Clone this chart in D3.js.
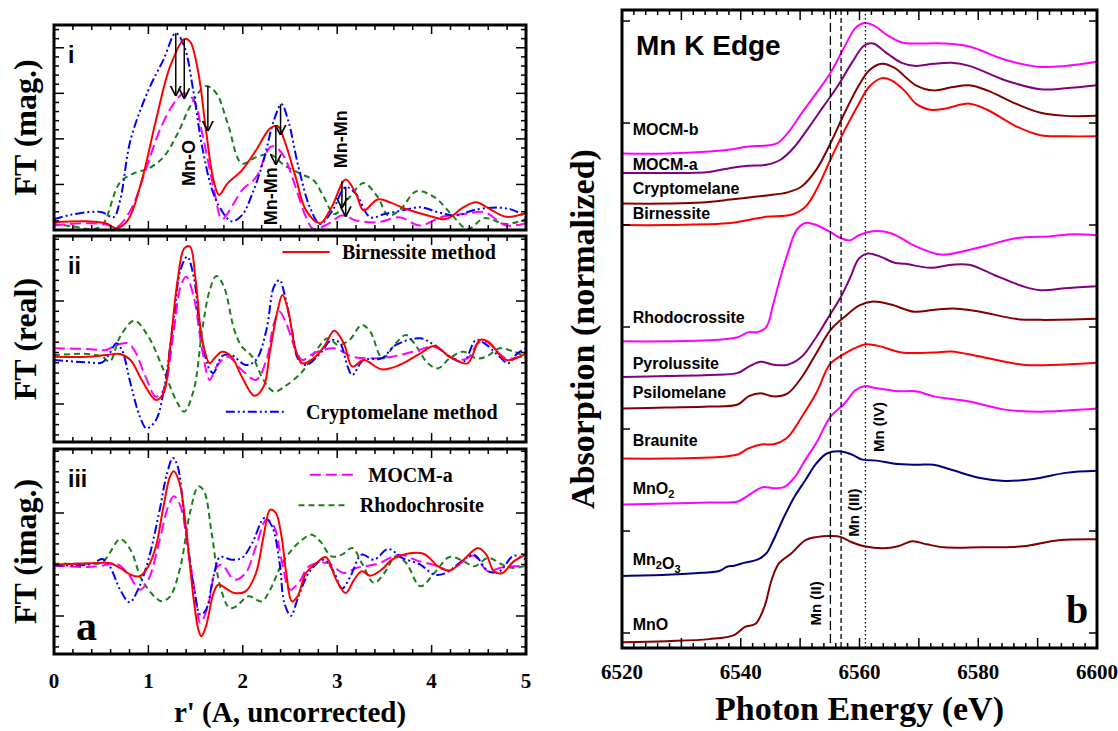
<!DOCTYPE html>
<html>
<head>
<meta charset="utf-8">
<script src="https://cdn.jsdelivr.net/npm/d3@7"></script>
<style>
  body { margin: 0; background: #fff; }
  .serif { font-family: "Liberation Serif", "Times New Roman", serif; font-weight: bold; }
  .sans { font-family: "Liberation Sans", Arial, sans-serif; font-weight: bold; }
</style>
</head>
<body>
<svg id="chart" width="1118" height="731"></svg>
<script>
// ---- panel a : FT of EXAFS, r' in A ----
var rTicks = [0, 1, 2, 3, 4, 5];

// (i) magnitude
var magBirn = [[0,0.17],[0.36,0.19],[0.55,0.15],[0.66,0.04],[0.78,0.21],[0.93,1.09],[1.08,2.41],[1.23,3.59],[1.38,4.19],[1.44,4.14],[1.53,3.44],[1.61,2.19],[1.69,1.09],[1.75,0.77],[1.84,1.03],[1.99,1.31],[2.14,1.75],[2.29,2.23],[2.37,2.28],[2.44,1.97],[2.56,1.16],[2.67,0.43],[2.82,0.15],[2.94,0.50],[3.09,1.11],[3.20,0.79],[3.28,0.43],[3.43,0.67],[3.58,0.59],[3.73,0.46],[3.96,0.32],[4.15,0.24],[4.34,0.50],[4.47,0.61],[4.64,0.43],[4.79,0.29],[5.0,0.37]];
var magCrypt = [[0,0.24],[0.17,0.33],[0.40,0.40],[0.51,0.39],[0.63,0.28],[0.70,0.65],[0.81,1.97],[1.00,3.07],[1.16,3.74],[1.29,4.32],[1.38,4.03],[1.48,3.00],[1.57,1.82],[1.69,0.79],[1.80,0.35],[1.88,0.19],[1.99,0.32],[2.10,0.79],[2.22,1.53],[2.33,2.41],[2.41,2.76],[2.48,2.41],[2.59,1.38],[2.71,0.50],[2.82,0.13],[2.95,0.43],[3.09,0.94],[3.20,0.79],[3.35,0.28],[3.50,0.35],[3.69,0.43],[3.88,0.50],[4.07,0.39],[4.26,0.32],[4.45,0.44],[4.72,0.49],[4.87,0.43],[5.0,0.28]];
var magMocm = [[0,0.10],[0.36,0.15],[0.55,0.12],[0.66,0.06],[0.81,0.43],[0.97,1.31],[1.12,2.19],[1.27,2.78],[1.38,3.00],[1.48,2.85],[1.57,2.12],[1.69,0.94],[1.78,0.24],[1.88,0.50],[1.99,0.87],[2.14,1.16],[2.29,1.82],[2.35,1.82],[2.44,1.60],[2.56,0.94],[2.67,0.28],[2.75,0.02],[2.90,0.13],[3.05,0.32],[3.20,0.21],[3.43,0.17],[3.66,0.28],[3.88,0.10],[4.11,0.29],[4.34,0.35],[4.56,0.39],[4.79,0.10],[5.0,0.15]];
var magRhodo = [[0,0.13],[0.17,0.09],[0.40,0.02],[0.51,0.10],[0.70,1.05],[0.85,1.25],[1.00,1.35],[1.16,1.60],[1.31,2.12],[1.46,2.78],[1.61,3.16],[1.72,3.00],[1.84,2.34],[1.99,1.46],[2.14,1.60],[2.29,1.66],[2.44,1.42],[2.63,1.22],[2.75,1.09],[2.86,0.72],[2.97,0.35],[3.13,0.72],[3.28,1.03],[3.43,0.72],[3.54,0.32],[3.66,0.43],[3.84,0.85],[4.03,0.72],[4.22,0.32],[4.38,0.02],[4.56,0.26],[4.79,0.13],[5.0,0.24]];

// (ii) real part
var reBirn = [[0,-0.02],[0.36,-0.02],[0.55,0.03],[0.70,0.06],[0.81,-0.12],[0.93,-0.72],[1.08,-1.32],[1.16,-1.12],[1.23,0.28],[1.31,2.28],[1.38,3.23],[1.44,3.28],[1.50,2.28],[1.57,0.48],[1.65,-0.22],[1.70,-0.07],[1.78,0.13],[1.88,-0.02],[1.99,-0.62],[2.12,-1.19],[2.22,-0.92],[2.29,0.18],[2.37,1.38],[2.42,1.83],[2.48,1.38],[2.56,0.18],[2.63,-0.22],[2.75,-0.07],[2.86,0.28],[2.97,0.76],[3.07,0.38],[3.16,-0.32],[3.28,-0.12],[3.47,-0.40],[3.66,-0.27],[3.88,0.08],[4.03,0.30],[4.19,-0.02],[4.38,-0.22],[4.51,0.48],[4.60,0.43],[4.79,-0.12],[5.0,0.08]];
var reCrypt = [[0,-0.12],[0.36,-0.19],[0.51,-0.19],[0.59,0.08],[0.66,0.38],[0.72,0.18],[0.81,-0.82],[0.91,-1.82],[0.98,-2.17],[1.08,-1.92],[1.17,-0.92],[1.27,1.18],[1.34,2.58],[1.41,2.98],[1.48,2.38],[1.55,0.78],[1.65,-0.42],[1.69,-0.50],[1.78,0.00],[1.88,0.03],[2.03,-0.27],[2.14,-0.12],[2.25,0.78],[2.33,2.08],[2.39,2.28],[2.44,1.88],[2.52,0.78],[2.59,-0.12],[2.67,-0.27],[2.82,0.08],[2.94,0.48],[3.03,0.38],[3.11,-0.32],[3.16,-0.57],[3.28,-0.12],[3.47,-0.07],[3.62,0.33],[3.88,0.53],[4.03,0.33],[4.22,-0.07],[4.34,-0.17],[4.47,0.48],[4.56,0.38],[4.72,-0.02],[4.81,-0.22],[4.91,0.08],[5.0,0.23]];
var reMocm = [[0,0.23],[0.36,0.21],[0.55,0.18],[0.66,0.33],[0.78,0.38],[0.85,0.18],[0.97,-0.62],[1.08,-1.22],[1.16,-1.02],[1.27,0.78],[1.34,2.08],[1.40,2.38],[1.48,1.78],[1.57,0.18],[1.65,-0.72],[1.72,-0.32],[1.84,-0.02],[1.99,-0.42],[2.14,-0.72],[2.25,-0.12],[2.33,0.98],[2.39,1.33],[2.46,0.98],[2.56,0.18],[2.63,-0.12],[2.75,0.08],[2.97,0.23],[3.16,-0.02],[3.35,-0.07],[3.58,-0.02],[3.81,0.13],[4.03,0.28],[4.22,-0.07],[4.38,-0.07],[4.49,0.38],[4.58,0.43],[4.79,-0.07],[5.0,0.03]];
var reRhodo = [[0,0.03],[0.36,0.06],[0.51,-0.02],[0.59,-0.17],[0.70,0.58],[0.85,1.06],[1.00,0.58],[1.16,-0.42],[1.31,-1.42],[1.38,-1.67],[1.48,-1.02],[1.57,0.78],[1.65,1.98],[1.72,2.40],[1.80,2.08],[1.91,0.78],[1.99,0.28],[2.10,-0.02],[2.22,-0.72],[2.33,-1.07],[2.44,-0.92],[2.63,-0.47],[2.78,0.18],[2.90,0.53],[3.01,0.33],[3.13,0.48],[3.26,0.93],[3.35,0.73],[3.48,-0.07],[3.62,0.38],[3.73,0.63],[3.84,0.28],[3.96,-0.22],[4.07,-0.37],[4.19,-0.07],[4.34,0.13],[4.47,-0.07],[4.58,-0.02],[4.72,0.23],[4.87,0.13],[5.0,-0.02]];

// (iii) imaginary part
var imBirn = [[0,0],[0.47,0.05],[0.59,0.05],[0.70,-0.10],[0.81,-0.30],[0.91,-0.35],[1.00,-0.05],[1.08,0.55],[1.16,1.75],[1.23,2.65],[1.27,2.80],[1.33,2.45],[1.40,1.05],[1.48,-1.05],[1.53,-1.95],[1.56,-2.15],[1.61,-1.85],[1.69,-0.85],[1.74,-0.60],[1.84,-0.75],[1.91,-0.85],[2.03,-0.80],[2.14,-0.25],[2.22,0.85],[2.29,1.65],[2.35,1.55],[2.41,0.85],[2.46,-0.25],[2.52,-1.10],[2.58,-0.95],[2.67,-0.25],[2.78,0.05],[2.88,0.23],[2.99,-0.45],[3.09,-0.85],[3.18,-0.45],[3.26,-0.20],[3.35,-0.33],[3.47,-0.15],[3.58,0.15],[3.73,0.32],[3.92,0.32],[4.07,-0.05],[4.19,-0.18],[4.34,0.15],[4.49,0.50],[4.58,0.30],[4.66,-0.20],[4.75,-0.25],[4.87,0.10],[5.0,0.30]];
var imCrypt = [[0,-0.02],[0.40,0.02],[0.51,0.17],[0.59,-0.05],[0.70,-0.75],[0.80,-1.13],[0.89,-0.75],[1.00,0.15],[1.12,1.65],[1.19,2.65],[1.26,3.20],[1.31,2.95],[1.38,1.45],[1.48,-0.65],[1.55,-1.50],[1.61,-1.35],[1.69,-0.35],[1.76,0.23],[1.88,0.15],[1.99,0.20],[2.10,0.65],[2.23,1.40],[2.31,1.15],[2.39,0.05],[2.44,-1.15],[2.51,-1.53],[2.59,-0.95],[2.71,-0.20],[2.86,0.15],[2.97,-0.25],[3.05,-0.72],[3.14,-0.35],[3.26,0.30],[3.39,0.15],[3.54,0.47],[3.69,0.20],[3.88,0.00],[4.03,-0.30],[4.15,-0.25],[4.34,0.15],[4.45,0.30],[4.60,-0.20],[4.72,-0.20],[4.87,0.27],[5.0,0.15]];
var imMocm = [[0,-0.03],[0.36,-0.07],[0.51,-0.03],[0.66,0.03],[0.78,-0.25],[0.91,-0.75],[1.00,-0.45],[1.12,0.75],[1.21,1.75],[1.27,2.05],[1.34,1.75],[1.42,0.45],[1.50,-0.95],[1.55,-1.75],[1.63,-1.25],[1.72,-0.10],[1.78,0.00],[1.91,-0.45],[2.03,-0.25],[2.14,0.55],[2.25,1.35],[2.33,1.15],[2.41,0.15],[2.50,-0.75],[2.59,-0.55],[2.71,-0.03],[2.90,0.05],[3.07,-0.25],[3.20,-0.10],[3.43,0.03],[3.66,0.30],[3.84,0.13],[4.07,-0.05],[4.19,-0.17],[4.38,0.20],[4.45,0.27],[4.60,-0.20],[4.72,-0.10],[4.87,-0.05],[5.0,-0.03]];
var imRhodo = [[0,0.03],[0.36,0.03],[0.51,0.07],[0.59,0.35],[0.70,0.77],[0.81,0.45],[0.93,-0.45],[1.08,-1.00],[1.14,-1.10],[1.23,-0.95],[1.34,-0.05],[1.44,1.55],[1.53,2.35],[1.59,2.20],[1.67,0.95],[1.76,-0.65],[1.86,-1.30],[1.93,-1.25],[2.06,-0.95],[2.20,-1.10],[2.29,-0.75],[2.41,0.00],[2.52,0.45],[2.63,0.75],[2.73,0.90],[2.82,0.70],[2.94,0.25],[3.05,0.30],[3.16,0.50],[3.26,0.05],[3.39,-0.55],[3.50,-0.25],[3.62,0.25],[3.73,0.05],[3.88,-0.65],[4.03,-0.25],[4.19,0.23],[4.34,0.10],[4.45,-0.05],[4.60,0.20],[4.75,0.00],[4.87,-0.10],[5.0,-0.03]];

// arrows in (i): r, from, to
var arrowR = [1.29, 1.38, 1.63, 2.40, 2.35, 3.05, 3.09];
var arrowFrom = [4.32, 4.19, 3.16, 2.76, 2.30, 1.07, 0.95];
var arrowTo = [2.96, 2.90, 2.19, 2.10, 1.45, 0.50, 0.31];

// ---- panel b : Mn K edge XANES ----
var eTicks = [6520, 6540, 6560, 6580, 6600];
var edgeLines = [6555.1, 6556.9, 6561.0];   // Mn(II), Mn(III), Mn(IV)

var xMocmB = [[6520,4.70],[6527.5,4.70],[6534.7,4.72],[6538.3,4.74],[6541.3,4.77],[6544.3,4.78],[6546.1,4.80],[6547.9,4.90],[6550.3,5.10],[6552.7,5.29],[6555.1,5.49],[6557.5,5.75],[6559.3,5.93],[6560.8,5.98],[6562.3,5.96],[6564.7,5.86],[6567.1,5.79],[6569.5,5.78],[6574.3,5.78],[6578.5,5.75],[6584.5,5.62],[6590.5,5.55],[6594.7,5.56],[6600,5.60]];
var xMocmA = [[6520,4.51],[6527.5,4.51],[6534.7,4.52],[6538.3,4.56],[6541.3,4.58],[6544.3,4.59],[6546.7,4.64],[6549.1,4.77],[6551.5,4.96],[6553.9,5.16],[6556.3,5.36],[6558.7,5.59],[6560.8,5.76],[6562.3,5.78],[6564.7,5.68],[6567.1,5.59],[6569.5,5.56],[6572.5,5.58],[6575.5,5.59],[6578.5,5.56],[6584.5,5.42],[6590.5,5.33],[6594.7,5.34],[6600,5.37]];
var xCrypt = [[6520,4.21],[6527.5,4.21],[6533.5,4.22],[6538.3,4.25],[6541.3,4.27],[6544.3,4.29],[6547.9,4.32],[6550.3,4.38],[6552.7,4.54],[6555.1,4.80],[6557.5,5.10],[6559.9,5.37],[6561.7,5.52],[6563.8,5.58],[6565.9,5.54],[6569.5,5.37],[6572.5,5.32],[6575.5,5.35],[6578.5,5.37],[6581.5,5.32],[6586.3,5.19],[6590.5,5.10],[6594.7,5.07],[6600,5.07]];
var xBirn = [[6520,4.00],[6527.5,4.00],[6538.3,4.02],[6541.3,4.05],[6544.3,4.08],[6548.5,4.10],[6550.9,4.18],[6552.7,4.34],[6555.1,4.64],[6557.5,4.93],[6559.9,5.19],[6561.7,5.36],[6563.8,5.44],[6565.3,5.42],[6567.7,5.31],[6569.5,5.19],[6571.9,5.13],[6574.3,5.14],[6578.5,5.19],[6581.5,5.13],[6586.3,4.97],[6590.5,4.88],[6594.7,4.87],[6600,4.87]];
var xRhodo = [[6520,2.86],[6527.5,2.86],[6534.7,2.87],[6539.5,2.90],[6541.3,2.95],[6542.8,2.95],[6544.3,3.00],[6545.5,3.23],[6546.7,3.49],[6547.9,3.72],[6549.4,3.95],[6550.9,4.02],[6552.7,4.00],[6555.1,3.93],[6556.9,3.87],[6558.4,3.85],[6559.9,3.90],[6562.3,3.94],[6565.3,3.92],[6569.5,3.79],[6573.7,3.71],[6577.3,3.74],[6581.5,3.80],[6586.3,3.87],[6592.3,3.89],[6595.9,3.91],[6600,3.90]];
var xPyro = [[6520,2.51],[6527.5,2.52],[6534.7,2.53],[6539.5,2.55],[6541.3,2.61],[6543.4,2.66],[6545.5,2.63],[6547.9,2.63],[6550.3,2.71],[6552.7,2.90],[6554.5,3.07],[6556.9,3.30],[6558.4,3.48],[6559.9,3.67],[6561.4,3.72],[6563.5,3.69],[6565.9,3.63],[6567.7,3.62],[6571.9,3.58],[6575.5,3.61],[6578.5,3.61],[6582.7,3.51],[6587.5,3.40],[6590.5,3.36],[6594.7,3.38],[6600,3.40]];
var xPsilo = [[6520,2.20],[6527.5,2.21],[6534.7,2.22],[6539.5,2.24],[6541.3,2.32],[6543.4,2.35],[6545.5,2.32],[6547.9,2.35],[6550.3,2.51],[6552.7,2.74],[6555.1,2.97],[6557.5,3.10],[6559.9,3.21],[6562.3,3.25],[6565.3,3.22],[6569.2,3.15],[6572.7,3.17],[6576.3,3.18],[6580.3,3.15],[6586.3,3.08],[6590.5,3.07],[6600,3.08]];
var xBraun = [[6520,1.71],[6527.5,1.71],[6534.7,1.72],[6539.5,1.75],[6541.3,1.81],[6543.7,1.85],[6545.5,1.85],[6547.9,1.92],[6550.3,2.12],[6552.7,2.35],[6555.1,2.64],[6557.5,2.74],[6559.9,2.81],[6561.1,2.83],[6563.5,2.81],[6567.1,2.75],[6572.5,2.75],[6575.5,2.76],[6580.3,2.71],[6587.5,2.63],[6593.5,2.63],[6600,2.65]];
var xMnO2 = [[6520,1.26],[6527.5,1.27],[6534.7,1.28],[6539.5,1.29],[6541.3,1.35],[6543.7,1.43],[6545.5,1.42],[6547.3,1.43],[6549.1,1.53],[6550.9,1.70],[6552.7,1.86],[6555.1,2.12],[6557.5,2.25],[6559.3,2.38],[6560.8,2.42],[6562.9,2.40],[6566.5,2.37],[6569.5,2.37],[6572.5,2.32],[6578.5,2.27],[6584.5,2.19],[6590.5,2.17],[6600,2.20]];
var xMn2O3 = [[6520,0.56],[6527.5,0.57],[6533.5,0.59],[6536.5,0.61],[6537.7,0.65],[6538.9,0.66],[6540.7,0.69],[6542.8,0.72],[6544.3,0.78],[6545.5,0.91],[6547.3,1.14],[6549.1,1.34],[6550.9,1.50],[6552.7,1.66],[6554.5,1.76],[6556.9,1.78],[6558.7,1.75],[6560.5,1.70],[6562.9,1.69],[6565.9,1.66],[6569.5,1.65],[6572.5,1.65],[6575.5,1.60],[6580.3,1.52],[6584.5,1.49],[6589.3,1.51],[6594.7,1.57],[6600,1.59]];
var xMnO = [[6520,-0.09],[6527.5,-0.08],[6534.7,-0.06],[6538.9,-0.02],[6540.7,0.06],[6542.5,0.09],[6544,0.26],[6545.2,0.52],[6546.4,0.68],[6548.5,0.78],[6550.9,0.91],[6552.7,0.94],[6555.4,0.95],[6556.9,0.94],[6558.7,0.89],[6560.8,0.85],[6564.1,0.83],[6566.5,0.85],[6568.9,0.90],[6571.3,0.87],[6574.3,0.84],[6580.3,0.84],[6587.5,0.85],[6593.5,0.91],[6600,0.92]];

var specNames = ["MOCM-b", "MOCM-a", "Cryptomelane", "Birnessite", "Rhodocrossite", "Pyrolussite", "Psilomelane", "Braunite", "MnO2", "Mn2O3", "MnO"];
var specData = [xMocmB, xMocmA, xCrypt, xBirn, xRhodo, xPyro, xPsilo, xBraun, xMnO2, xMn2O3, xMnO];
var specColors = ["#ff00ff", "#800080", "#800000", "#ff0000", "#ff00ff", "#800080", "#800000", "#ff0000", "#ff00ff", "#000080", "#800000"];
var specLabelY = [4.88, 4.54, 4.30, 4.06, 3.04, 2.59, 2.30, 1.83, 1.36, 0.67, 0.03];

var svg = d3.select("#chart");

// series styles for panel a
var styles = {
  birn:  { color: "#ff0000", dash: null },
  crypt: { color: "#0000ff", dash: "9,3,2,3,2,3" },
  mocm:  { color: "#ff00ff", dash: "11,5" },
  rhodo: { color: "#1a7f1a", dash: "6,4" }
};

var x = d3.scaleLinear().domain([0, 5]).range([54, 526]);

var panels = [
  { name: "i",   top: 25,  bottom: 230, dom: [0, 4.5],      tick0: 0,    step: 0.2,   every: 5,
    title: "FT (mag.)",  series: [["rhodo", magRhodo], ["mocm", magMocm], ["crypt", magCrypt], ["birn", magBirn]] },
  { name: "ii",  top: 236, bottom: 442, dom: [-2.58, 3.6],  tick0: 1.65, step: 0.309, every: 10,
    title: "FT (real)",  series: [["rhodo", reRhodo], ["mocm", reMocm], ["crypt", reCrypt], ["birn", reBirn]] },
  { name: "iii", top: 449, bottom: 654, dom: [-2.68, 3.47], tick0: 1.55, step: 0.309, every: 10,
    title: "FT (imag.)", series: [["rhodo", imRhodo], ["mocm", imMocm], ["crypt", imCrypt], ["birn", imBirn]] }
];

svg.append("defs").append("marker")
  .attr("id", "arr")
  .attr("viewBox", "0 0 10 10")
  .attr("refX", 9).attr("refY", 5)
  .attr("markerWidth", 7).attr("markerHeight", 9)
  .attr("orient", "auto")
  .append("path")
  .attr("d", "M0,0 L10,5 L0,10")
  .attr("fill", "none")
  .attr("stroke", "#000")
  .attr("stroke-width", 1.6);

panels.forEach(function(p, pi) {
  var y = d3.scaleLinear().domain(p.dom).range([p.bottom, p.top]);
  var g = svg.append("g");

  var clipId = "clip" + pi;
  g.append("clipPath").attr("id", clipId)
    .append("rect")
    .attr("x", x(0)).attr("y", p.top)
    .attr("width", x(5) - x(0)).attr("height", p.bottom - p.top);

  var line = d3.line()
    .x(function(d) { return x(d[0]); })
    .y(function(d) { return y(d[1]); })
    .curve(d3.curveCatmullRom.alpha(0.5));

  g.append("g").attr("clip-path", "url(#" + clipId + ")")
    .selectAll("path")
    .data(p.series)
    .enter()
    .append("path")
    .attr("d", function(d) { return line(d[1]); })
    .attr("fill", "none")
    .attr("stroke", function(d) { return styles[d[0]].color; })
    .attr("stroke-width", 2)
    .attr("stroke-dasharray", function(d) { return styles[d[0]].dash; });

  // ticks, all inward
  var xt = d3.range(0, 26).map(function(i) { return i * 0.2; });
  var yt = d3.range(-30, 31).map(function(i) { return { v: p.tick0 + i * p.step, major: i % p.every === 0 }; })
    .filter(function(t) { return t.v > p.dom[0] + 0.01 && t.v < p.dom[1] - 0.01; });

  var tk = g.append("g").attr("stroke", "#000").attr("stroke-width", 1.5);
  xt.forEach(function(v, i) {
    var len = (i % 5 === 0) ? 9 : 5;
    tk.append("line").attr("x1", x(v)).attr("x2", x(v)).attr("y1", p.top).attr("y2", p.top + len);
    tk.append("line").attr("x1", x(v)).attr("x2", x(v)).attr("y1", p.bottom).attr("y2", p.bottom - len);
  });
  yt.forEach(function(t) {
    var len = t.major ? 10 : 5;
    tk.append("line").attr("x1", x(0)).attr("x2", x(0) + len).attr("y1", y(t.v)).attr("y2", y(t.v));
    tk.append("line").attr("x1", x(5)).attr("x2", x(5) - len).attr("y1", y(t.v)).attr("y2", y(t.v));
  });

  g.append("rect")
    .attr("x", x(0)).attr("y", p.top)
    .attr("width", x(5) - x(0)).attr("height", p.bottom - p.top)
    .attr("fill", "none").attr("stroke", "#000").attr("stroke-width", 3);

  g.append("text").attr("class", "sans")
    .attr("x", 68).attr("y", p.top + 38)
    .style("font-size", "23px")
    .text(p.name);

  g.append("text").attr("class", "serif")
    .attr("transform", "translate(36," + ((p.top + p.bottom) / 2) + ") rotate(-90)")
    .attr("text-anchor", "middle")
    .style("font-size", "32px")
    .text(p.title);

  p.y = y;
});

// (i) arrows and bond labels
var y1 = panels[0].y;
svg.append("g").selectAll("line")
  .data(arrowR)
  .enter()
  .append("line")
  .attr("x1", function(d) { return x(d); })
  .attr("x2", function(d) { return x(d); })
  .attr("y1", function(d, i) { return y1(arrowFrom[i]); })
  .attr("y2", function(d, i) { return y1(arrowTo[i]); })
  .attr("stroke", "#000")
  .attr("stroke-width", 1.5)
  .attr("marker-end", "url(#arr)");

var bondLabels = [["Mn-O", 1.43, 1.47], ["Mn-Mn", 2.30, 0.74], ["Mn-Mn", 3.04, 1.99]];
svg.append("g").selectAll("text")
  .data(bondLabels)
  .enter()
  .append("text")
  .attr("class", "sans")
  .attr("text-anchor", "middle")
  .attr("dominant-baseline", "central")
  .attr("transform", function(d) { return "translate(" + x(d[1]) + "," + y1(d[2]) + ") rotate(-90)"; })
  .style("font-size", "18px")
  .text(function(d) { return d[0]; });

// legends in (ii) and (iii)
var legend = [
  { s: "birn",  txt: "Birnessite method",   p: 1, x0: 2.42, x1: 2.92, tx: 3.05, yv: 3.12 },
  { s: "crypt", txt: "Cryptomelane method", p: 1, x0: 1.82, x1: 2.46, tx: 2.67, yv: -1.67 },
  { s: "mocm",  txt: "MOCM-a",              p: 2, x0: 2.71, x1: 3.20, tx: 3.33, yv: 2.70 },
  { s: "rhodo", txt: "Rhodochrosite",       p: 2, x0: 2.59, x1: 3.11, tx: 3.24, yv: 1.78 }
];
legend.forEach(function(l) {
  var y = panels[l.p].y;
  svg.append("line")
    .attr("x1", x(l.x0)).attr("x2", x(l.x1))
    .attr("y1", y(l.yv)).attr("y2", y(l.yv))
    .attr("stroke", styles[l.s].color)
    .attr("stroke-width", 2)
    .attr("stroke-dasharray", styles[l.s].dash);
  svg.append("text").attr("class", "serif")
    .attr("x", x(l.tx)).attr("y", y(l.yv) + 7)
    .style("font-size", "20px")
    .text(l.txt);
});

// x axis of panel a
svg.append("g").selectAll("text")
  .data(rTicks)
  .enter()
  .append("text")
  .attr("class", "serif")
  .attr("x", function(d) { return x(d); })
  .attr("y", 688)
  .attr("text-anchor", "middle")
  .style("font-size", "21px")
  .text(function(d) { return d; });

svg.append("text").attr("class", "serif")
  .attr("x", (x(0) + x(5)) / 2).attr("y", 722)
  .attr("text-anchor", "middle")
  .style("font-size", "29px")
  .text("r' (A, uncorrected)");

svg.append("text").attr("class", "serif")
  .attr("x", 76).attr("y", 640)
  .style("font-size", "42px")
  .text("a");

// ---- panel b ----
var xe = d3.scaleLinear().domain([6520, 6600]).range([622, 1097]);
var ya = d3.scaleLinear().domain([-0.147, 6.108]).range([648, 10]);

var gb = svg.append("g");

var specLine = d3.line()
  .x(function(d) { return xe(d[0]); })
  .y(function(d) { return ya(d[1]); })
  .curve(d3.curveCatmullRom.alpha(0.5));

gb.append("g").selectAll("path")
  .data(specData)
  .enter()
  .append("path")
  .attr("d", specLine)
  .attr("fill", "none")
  .attr("stroke", function(d, i) { return specColors[i]; })
  .attr("stroke-width", 2);

// oxidation state reference lines
var edgeDash = ["9,4", "5,3", "1.5,2.5"];
gb.append("g").selectAll("line")
  .data(edgeLines)
  .enter()
  .append("line")
  .attr("x1", function(d) { return xe(d); })
  .attr("x2", function(d) { return xe(d); })
  .attr("y1", ya(6.108))
  .attr("y2", ya(-0.147))
  .attr("stroke", "#000")
  .attr("stroke-width", 1.3)
  .attr("stroke-dasharray", function(d, i) { return edgeDash[i]; });

var edgeLabels = [["Mn (II)", 6552.6, 0.29], ["Mn (III)", 6559.0, 1.18], ["Mn (IV)", 6563.2, 2.02]];
gb.append("g").selectAll("text")
  .data(edgeLabels)
  .enter()
  .append("text")
  .attr("class", "sans")
  .attr("text-anchor", "middle")
  .attr("dominant-baseline", "central")
  .attr("transform", function(d) { return "translate(" + xe(d[1]) + "," + ya(d[2]) + ") rotate(-90)"; })
  .style("font-size", "15px")
  .text(function(d) { return d[0]; });

// spectrum labels (subscripts for oxides)
gb.append("g").selectAll("text")
  .data(specNames)
  .enter()
  .append("text")
  .attr("class", "sans")
  .attr("x", xe(6521.8))
  .attr("y", function(d, i) { return ya(specLabelY[i]); })
  .style("font-size", "16px")
  .each(function(d) {
    var t = d3.select(this);
    var parts = d.match(/[A-Za-z-]+|\d/g);
    parts.forEach(function(s) {
      if (/\d/.test(s)) {
        t.append("tspan").attr("dy", 4).style("font-size", "11px").text(s);
        t.append("tspan").attr("dy", -4).text("");
      } else {
        t.append("tspan").text(s);
      }
    });
  });

// ticks
var tb = gb.append("g").attr("stroke", "#000").attr("stroke-width", 1.5);
d3.range(6520, 6601, 2).forEach(function(v) {
  var len = (v % 10 === 0) ? 10 : 5;
  tb.append("line").attr("x1", xe(v)).attr("x2", xe(v)).attr("y1", ya(-0.147)).attr("y2", ya(-0.147) - len);
  tb.append("line").attr("x1", xe(v)).attr("x2", xe(v)).attr("y1", ya(6.108)).attr("y2", ya(6.108) + len);
});
d3.range(0, 7).forEach(function(v) {
  tb.append("line").attr("x1", xe(6520)).attr("x2", xe(6520) + 8).attr("y1", ya(v)).attr("y2", ya(v));
  tb.append("line").attr("x1", xe(6600)).attr("x2", xe(6600) - 8).attr("y1", ya(v)).attr("y2", ya(v));
});

gb.append("rect")
  .attr("x", xe(6520)).attr("y", ya(6.108))
  .attr("width", xe(6600) - xe(6520)).attr("height", ya(-0.147) - ya(6.108))
  .attr("fill", "none").attr("stroke", "#000").attr("stroke-width", 3);

gb.append("g").selectAll("text")
  .data(eTicks)
  .enter()
  .append("text")
  .attr("class", "serif")
  .attr("x", function(d) { return xe(d); })
  .attr("y", 679)
  .attr("text-anchor", "middle")
  .style("font-size", "21px")
  .text(function(d) { return d; });

gb.append("text").attr("class", "serif")
  .attr("x", (xe(6520) + xe(6600)) / 2).attr("y", 720)
  .attr("text-anchor", "middle")
  .style("font-size", "34px")
  .text("Photon Energy (eV)");

gb.append("text").attr("class", "serif")
  .attr("transform", "translate(594," + ((ya(6.108) + ya(-0.147)) / 2) + ") rotate(-90)")
  .attr("text-anchor", "middle")
  .style("font-size", "34px")
  .text("Absorption (normalized)");

gb.append("text").attr("class", "sans")
  .attr("x", 636).attr("y", 55)
  .style("font-size", "28px")
  .text("Mn K Edge");

gb.append("text").attr("class", "serif")
  .attr("x", 1077).attr("y", 623)
  .attr("text-anchor", "middle")
  .style("font-size", "40px")
  .text("b");
</script>
</body>
</html>
